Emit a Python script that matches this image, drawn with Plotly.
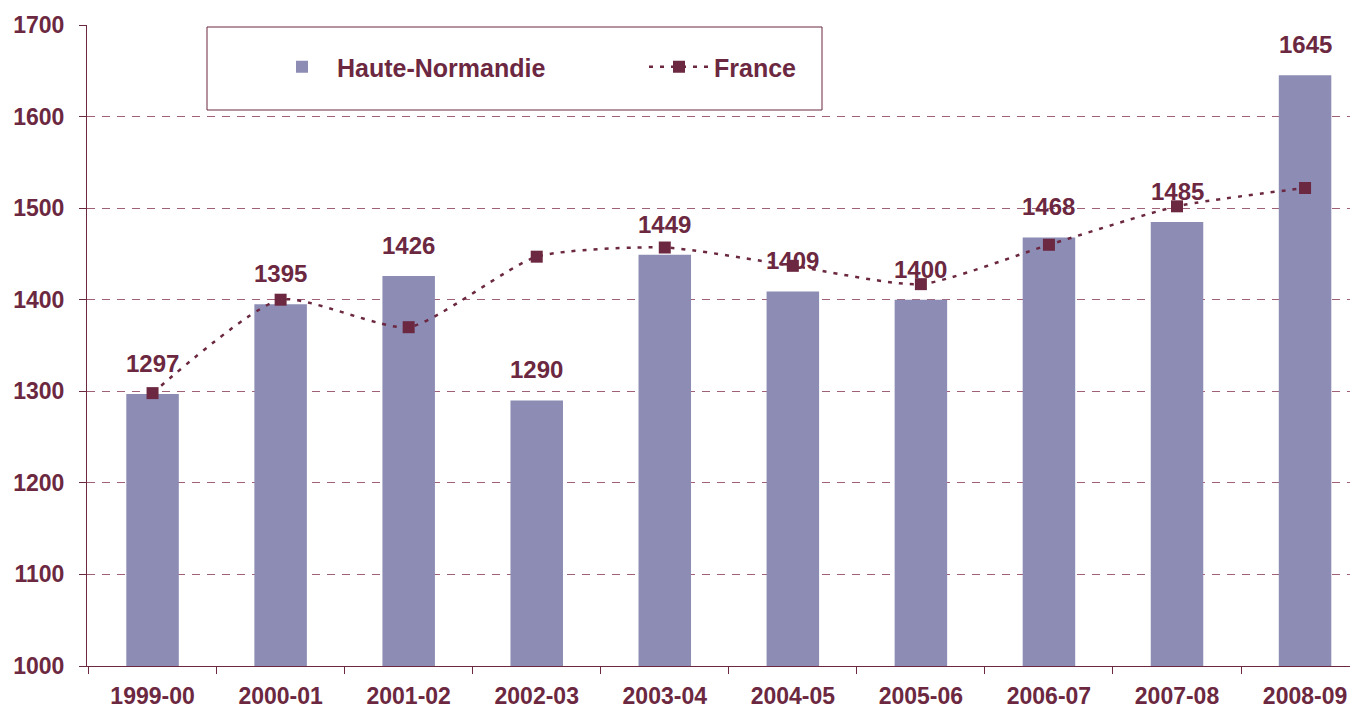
import plotly.graph_objects as go

categories = ["1999-00", "2000-01", "2001-02", "2002-03", "2003-04",
              "2004-05", "2005-06", "2006-07", "2007-08", "2008-09"]
haute_normandie = [1297, 1395, 1426, 1290, 1449, 1409, 1400, 1468, 1485, 1645]
france = [1298, 1400, 1370, 1447, 1457, 1437, 1417, 1460, 1502, 1522]
y_ticks = [1000, 1100, 1200, 1300, 1400, 1500, 1600, 1700]

MAROON = "#6b2840"
BAR = "#8c8cb4"
GRID = "#a06078"
FONT = "Liberation Sans, Arial, sans-serif"

PW = 1263  # plot width in px
fig = go.Figure()
fig.add_trace(go.Bar(
    x=categories, y=haute_normandie, name="Haute-Normandie",
    marker=dict(color=BAR, line=dict(width=0)), width=0.41,
))
fig.add_trace(go.Scatter(
    x=categories, y=france, name="France", mode="lines+markers",
    line=dict(color=MAROON, width=2.5, dash="4px,7px", shape="spline", smoothing=0.6),
    marker=dict(symbol="square", size=12, color=MAROON),
))

for c, v in zip(categories, haute_normandie):
    fig.add_annotation(x=c, y=v, text="<b>%d</b>" % v, showarrow=False,
                       yanchor="bottom", yshift=15,
                       font=dict(family=FONT, size=24, color=MAROON))

# legend frame
fig.add_shape(type="rect", xref="paper", yref="paper",
              x0=(207 - 87) / PW, x1=(822 - 87) / PW,
              y0=1 - (110 - 25) / 641, y1=1 - (27 - 25) / 641,
              line=dict(color=MAROON, width=1), fillcolor="white", layer="below")

fig.update_layout(
    width=1350, height=711,
    margin=dict(l=87, r=0, t=25, b=45),
    paper_bgcolor="white", plot_bgcolor="white",
    font=dict(family=FONT, color=MAROON),
    showlegend=True,
    legend=dict(
        orientation="h", x=(267 - 87) / PW, xanchor="left",
        y=1 - (67 - 25) / 641, yanchor="middle",
        bgcolor="rgba(0,0,0,0)", borderwidth=0,
        font=dict(family=FONT, size=25, color=MAROON, weight="bold"),
        entrywidth=302, entrywidthmode="pixels", itemwidth=60,
        traceorder="normal",
    ),
    xaxis=dict(
        type="category", tickson="boundaries", automargin=False,
        range=[-0.512, 9.351],
        showline=True, linecolor=MAROON, linewidth=1,
        ticks="outside", ticklen=7, tickcolor=MAROON,
        tickfont=dict(family=FONT, size=23, color=MAROON, weight="bold"),
        ticklabelstandoff=9, showgrid=False,
    ),
    yaxis=dict(
        range=[1000, 1700], tickvals=y_ticks, automargin=False,
        showline=True, linecolor=MAROON, linewidth=1,
        ticks="outside", ticklen=7, tickcolor=MAROON,
        tickfont=dict(family=FONT, size=23, color=MAROON, weight="bold"),
        ticklabelstandoff=10,
        showgrid=True, gridcolor=GRID, gridwidth=1, griddash="8px,7px",
        zeroline=False,
    ),
)

fig.write_html("out.html",
               config={"displayModeBar": False},
               post_script="document.body.style.margin='0px';"
                           "document.body.style.overflow='hidden';")
